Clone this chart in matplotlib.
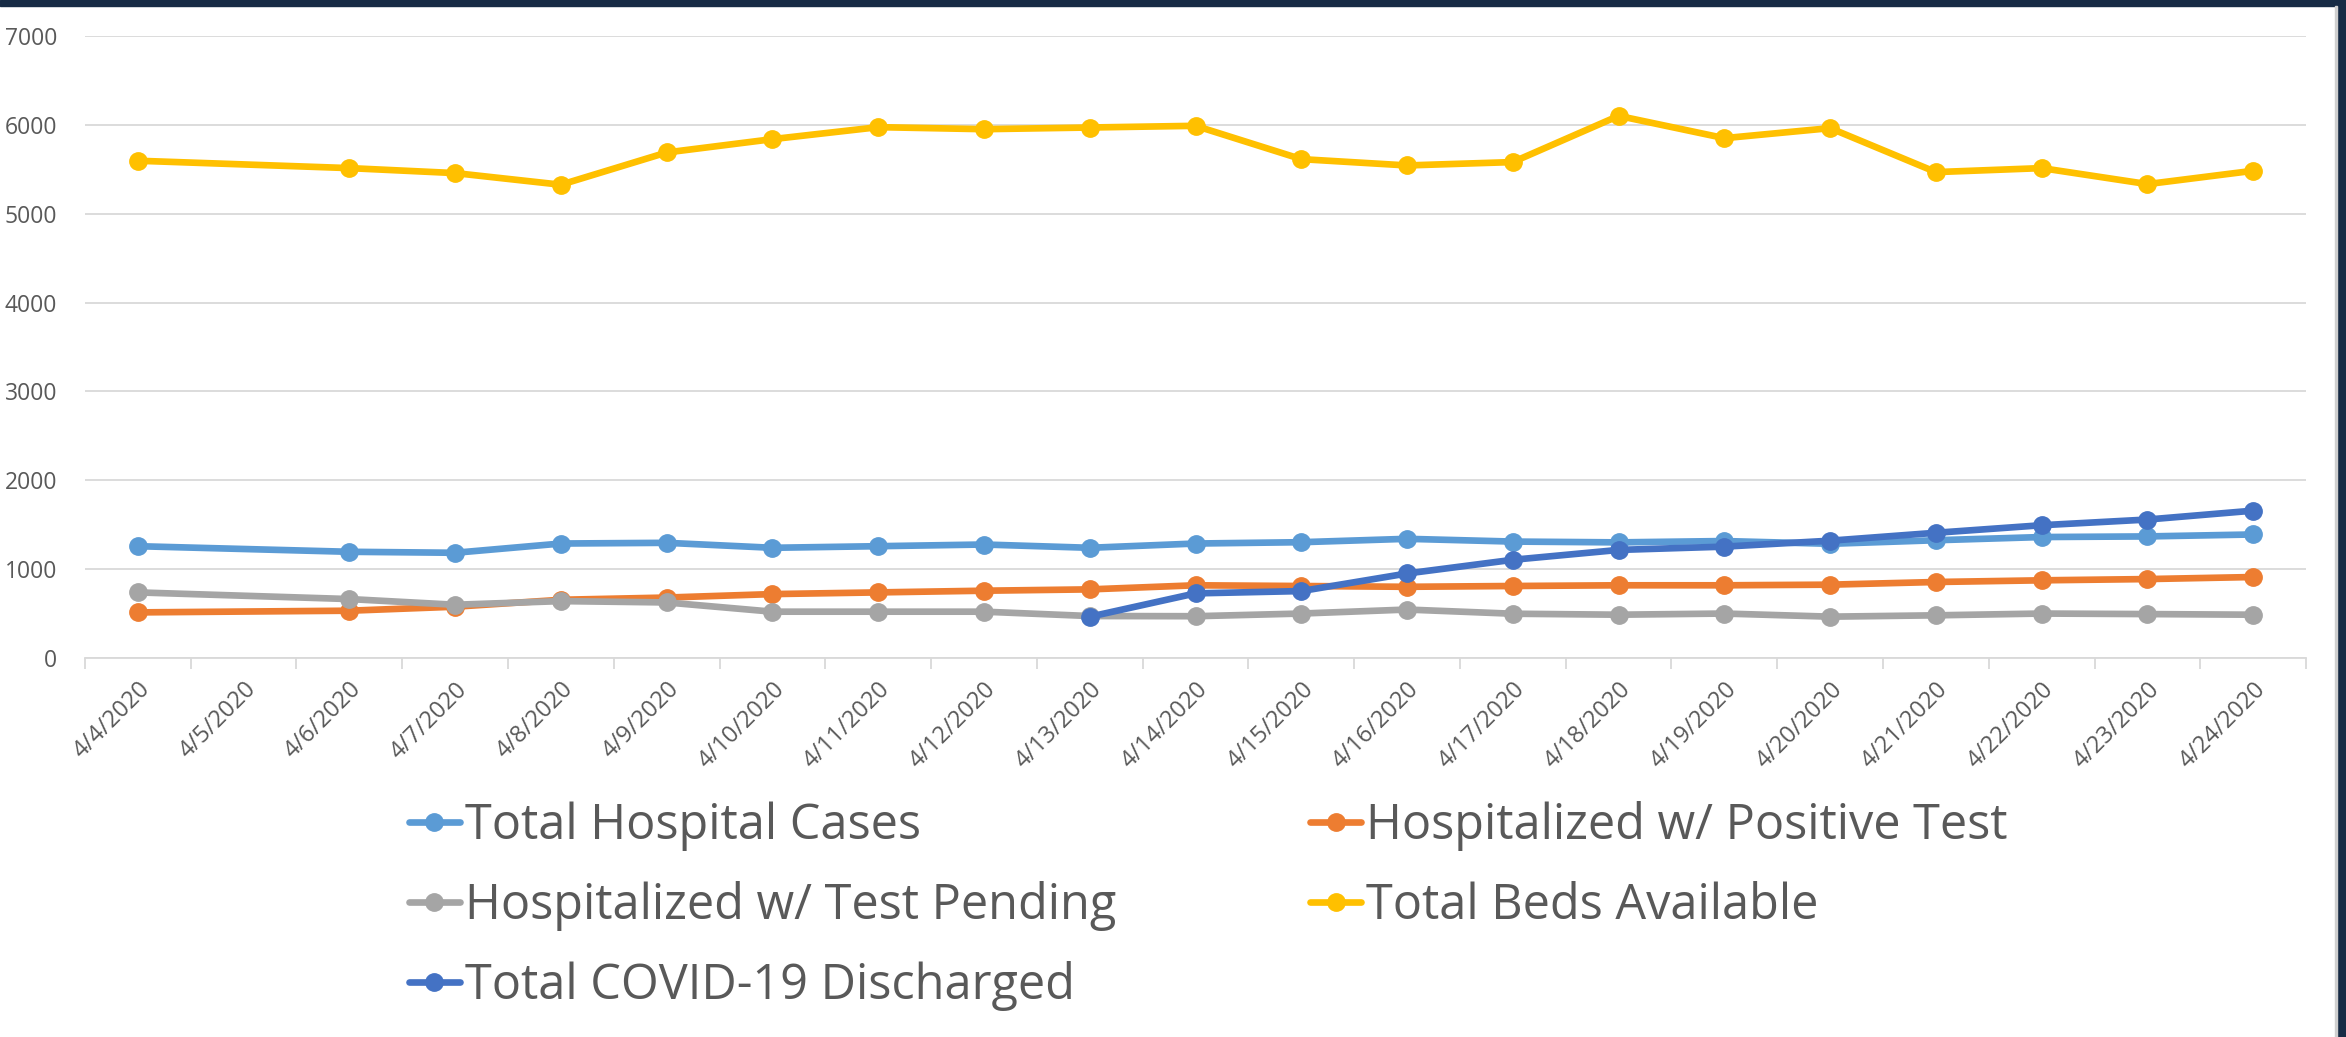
import numpy as np
import matplotlib
matplotlib.use("Agg")
import matplotlib.pyplot as plt
from matplotlib.patches import Rectangle

plt.rcParams['font.family'] = ['Open Sans', 'DejaVu Sans']

# data (4/5 has no values)
dates = ['4/4/2020', '4/5/2020', '4/6/2020', '4/7/2020', '4/8/2020', '4/9/2020', '4/10/2020',
         '4/11/2020', '4/12/2020', '4/13/2020', '4/14/2020', '4/15/2020', '4/16/2020', '4/17/2020',
         '4/18/2020', '4/19/2020', '4/20/2020', '4/21/2020', '4/22/2020', '4/23/2020', '4/24/2020']
nan = np.nan
total_cases = [1258, nan, 1195, 1184, 1288, 1296, 1240, 1258, 1277, 1240, 1288, 1303, 1341, 1310,
               1301, 1316, 1285, 1325, 1361, 1368, 1390]
positive = [513, nan, 532, 577, 655, 680, 719, 738, 757, 772, 818, 810, 801, 810,
            818, 818, 825, 855, 874, 888, 911]
pending = [738, nan, 663, 599, 640, 625, 521, 521, 521, 472, 470, 500, 545, 498,
           487, 500, 465, 480, 500, 494, 487]
beds = [5596, nan, 5513, 5457, 5326, 5689, 5839, 5974, 5951, 5970, 5989, 5614, 5543, 5581,
        6101, 5850, 5963, 5468, 5513, 5333, 5483]
discharged = [nan, nan, nan, nan, nan, nan, nan, nan, nan, 464, 727, 753, 951, 1105,
              1216, 1253, 1320, 1409, 1494, 1558, 1658]

series = [
    ('Total Hospital Cases', total_cases, '#5B9BD5'),
    ('Hospitalized w/ Positive Test', positive, '#ED7D31'),
    ('Hospitalized w/ Test Pending', pending, '#A5A5A5'),
    ('Total Beds Available', beds, '#FFC000'),
    ('Total COVID-19 Discharged', discharged, '#4472C4'),
]

fig = plt.figure(figsize=(23.46, 10.37), dpi=100)
ax = fig.add_axes([0.0362, 0.3655, 0.9468, 0.5998])

x = np.arange(len(dates))
handles = {}
for name, vals, col in series:
    y = np.array(vals, dtype=float)
    ok = ~np.isnan(y)
    # Excel joins the line across the missing day
    h, = ax.plot(x[ok], y[ok], color=col, lw=4.8, marker='o', ms=12.5,
                 solid_capstyle='round', label=name)
    handles[name] = h

ax.set_xlim(-0.5, len(dates) - 0.5)
ax.set_ylim(0, 7000)
ax.set_yticks(np.arange(0, 7001, 1000))
ax.yaxis.grid(True, color='#D9D9D9', lw=1.3)
ax.set_axisbelow(True)
for s in ['left', 'right', 'top']:
    ax.spines[s].set_visible(False)
ax.spines['bottom'].set_color('#D9D9D9')
ax.spines['bottom'].set_linewidth(1.3)
ax.tick_params(axis='y', length=0, pad=20, labelsize=16.5, labelcolor='#595959')

# tick marks between categories, labels centred on them
ax.set_xticks(np.arange(-0.5, len(dates), 1.0))
ax.set_xticklabels([])
ax.tick_params(axis='x', which='major', length=8, width=1.3, color='#D9D9D9')
ax.set_xticks(x, minor=True)
ax.set_xticklabels(dates, minor=True, rotation=45, ha='right', rotation_mode='anchor',
                   fontsize=17, color='#595959')
ax.tick_params(axis='x', which='minor', length=0, pad=14)

order = ['Total Hospital Cases', 'Hospitalized w/ Test Pending', 'Total COVID-19 Discharged',
         'Hospitalized w/ Positive Test', 'Total Beds Available']
leg = fig.legend([handles[n] for n in order], order, ncol=2, loc='center',
                 bbox_to_anchor=(0.515, 0.126), frameon=False, fontsize=35,
                 handlelength=1.05, handletextpad=0.1, labelspacing=0.62,
                 columnspacing=4.0, labelcolor='#595959')

# dark frame of the screenshot
fig.patches.append(Rectangle((0, 1 - 6 / 1037), 1, 6 / 1037, transform=fig.transFigure,
                             color='#172B45', zorder=5))
fig.patches.append(Rectangle((1 - 9 / 2346, 0), 9 / 2346, 1, transform=fig.transFigure,
                             color='#172B45', zorder=5))
fig.patches.append(Rectangle((1 - 11 / 2346, 0), 2 / 2346, 1 - 6 / 1037, transform=fig.transFigure,
                             color='#CFCFCF', zorder=5))

fig.savefig('out.png', dpi=100)
